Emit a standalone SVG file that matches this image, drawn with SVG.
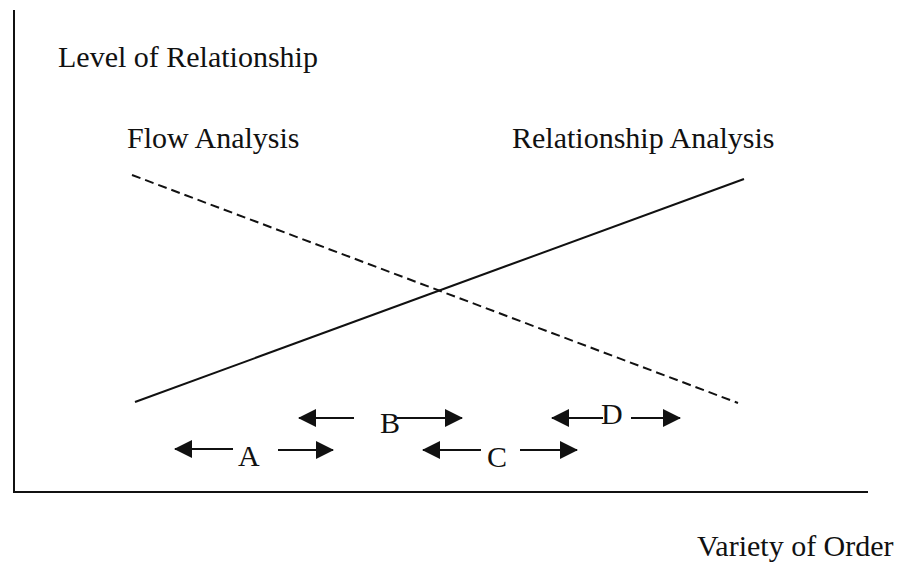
<svg xmlns="http://www.w3.org/2000/svg" width="908" height="562" viewBox="0 0 908 562">
<style>
text{font-family:"Liberation Serif","Times New Roman",serif;font-size:30px;fill:#111}
.ax{stroke:#111;stroke-width:2;fill:none}
.ln{stroke:#111;stroke-width:2;fill:none}
.ar{stroke:#111;stroke-width:2;fill:none;marker-end:url(#ah)}
</style>
<defs>
<marker id="ah" viewBox="0 0 18 18" refX="17" refY="9" markerWidth="18" markerHeight="18" markerUnits="userSpaceOnUse" orient="auto">
<path d="M0,0 L18,9 L0,18 Z" fill="#111"/>
</marker>
</defs>
<rect width="908" height="562" fill="#fff"/>
<g id="axes">
<line class="ax" x1="14" y1="10" x2="14" y2="493"/>
<line class="ax" x1="13" y1="492" x2="868" y2="492"/>
</g>
<g id="labels">
<text x="58" y="67">Level of Relationship</text>
<text x="127" y="148">Flow Analysis</text>
<text x="512" y="148">Relationship Analysis</text>
<text x="697" y="556">Variety of Order</text>
</g>
<g id="connectors">
<line id="relationship-line" class="ln" x1="135" y1="402" x2="744" y2="179"/>
<line id="flow-line" class="ln" x1="132" y1="175" x2="738" y2="403" stroke-dasharray="9 5"/>
</g>
<g id="range-A">
<line class="ar" x1="233" y1="449" x2="175" y2="449"/>
<text x="238" y="466">A</text>
<line class="ar" x1="278" y1="450" x2="333" y2="450"/>
</g>
<g id="range-B">
<line class="ar" x1="354" y1="418" x2="299" y2="418"/>
<text x="380" y="433">B</text>
<line class="ar" x1="397" y1="418" x2="462" y2="418"/>
</g>
<g id="range-C">
<line class="ar" x1="481" y1="450" x2="423" y2="450"/>
<text x="487" y="467">C</text>
<line class="ar" x1="520" y1="450" x2="577" y2="450"/>
</g>
<g id="range-D">
<line class="ar" x1="603" y1="418" x2="552" y2="418"/>
<text x="601" y="424">D</text>
<line class="ar" x1="631" y1="418" x2="680" y2="418"/>
</g>
</svg>
